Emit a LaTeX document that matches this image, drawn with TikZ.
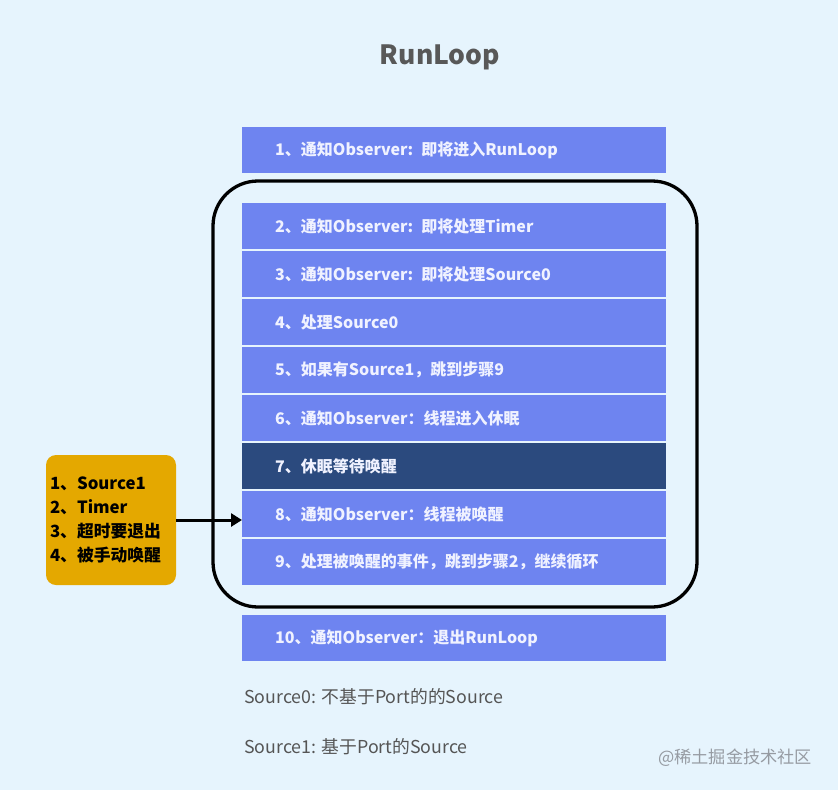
\documentclass[tikz,border=0pt]{standalone}
\usepackage{fontspec}
\setmainfont{Noto Sans CJK SC}
\usetikzlibrary{arrows.meta}
\definecolor{bg}{RGB}{230,244,253}
\definecolor{stepblue}{RGB}{110,132,240}
\definecolor{stepdark}{RGB}{43,74,126}
\definecolor{srcyellow}{RGB}{228,168,0}
\definecolor{titlegray}{RGB}{88,88,88}
\definecolor{notegray}{RGB}{85,85,85}
\definecolor{wmgray}{RGB}{150,155,162}
\definecolor{steptxt}{RGB}{240,242,255}
\begin{document}
\begin{tikzpicture}[x=1pt,y=-1pt,
  stepbox/.style={fill=stepblue, draw=none, minimum width=424pt, minimum height=46pt,
    text width=358pt, inner xsep=0pt, inner ysep=0pt, align=left, anchor=north west,
    text=steptxt, font=\bfseries\fontsize{16}{18}\selectfont},
  notetext/.style={anchor=west, inner sep=0pt, text=notegray, font=\fontsize{17.8}{20}\selectfont}]
\fill[bg] (0,0) rectangle (838,790);
\useasboundingbox (0,0) rectangle (838,790);

\node[text=titlegray, font=\bfseries\fontsize{26.5}{30}\selectfont] (title) at (440,57) {RunLoop};

\node[draw=black, line width=3.3pt, rounded corners=45pt, minimum width=484pt, minimum height=426pt, inner sep=0pt] (loop) at (455,394) {};

\node[stepbox] (s1) at (242,127) {1、通知Observer: 即将进入RunLoop};
\node[stepbox] (s2) at (242,203) {2、通知Observer: 即将处理Timer};
\node[stepbox] (s3) at (242,251) {3、通知Observer: 即将处理Source0};
\node[stepbox] (s4) at (242,299) {4、处理Source0};
\node[stepbox] (s5) at (242,347) {5、如果有Source1，跳到步骤9};
\node[stepbox] (s6) at (242,395) {6、通知Observer：线程进入休眠};
\node[stepbox, fill=stepdark] (s7) at (242,443) {7、休眠等待唤醒};
\node[stepbox] (s8) at (242,491) {8、通知Observer：线程被唤醒};
\node[stepbox] (s9) at (242,539) {9、处理被唤醒的事件，跳到步骤2，继续循环};
\node[stepbox] (s10) at (242,615) {10、通知Observer：退出RunLoop};

\node[fill=srcyellow, rounded corners=10pt, minimum width=130pt, minimum height=130pt,
  text width=122pt, inner xsep=4pt, align=left, text=black,
  font=\bfseries\fontsize{16.8}{24}\selectfont] (src) at (111,520)
  {1、Source1\\2、Timer\\3、超时要退出\\4、被手动唤醒};

\draw[line width=3pt, -{Triangle[length=11pt,width=13pt]}] (src.east) -- (src.east -| s8.west);

\node[notetext] (n0) at (244,697) {Source0: 不基于Port的的Source};
\node[notetext] (n1) at (244,747) {Source1: 基于Port的Source};
\node[anchor=west, inner sep=0pt, text=wmgray, font=\fontsize{17.2}{20}\selectfont] (wm) at (658,758) {@稀土掘金技术社区};
\end{tikzpicture}
\end{document}
